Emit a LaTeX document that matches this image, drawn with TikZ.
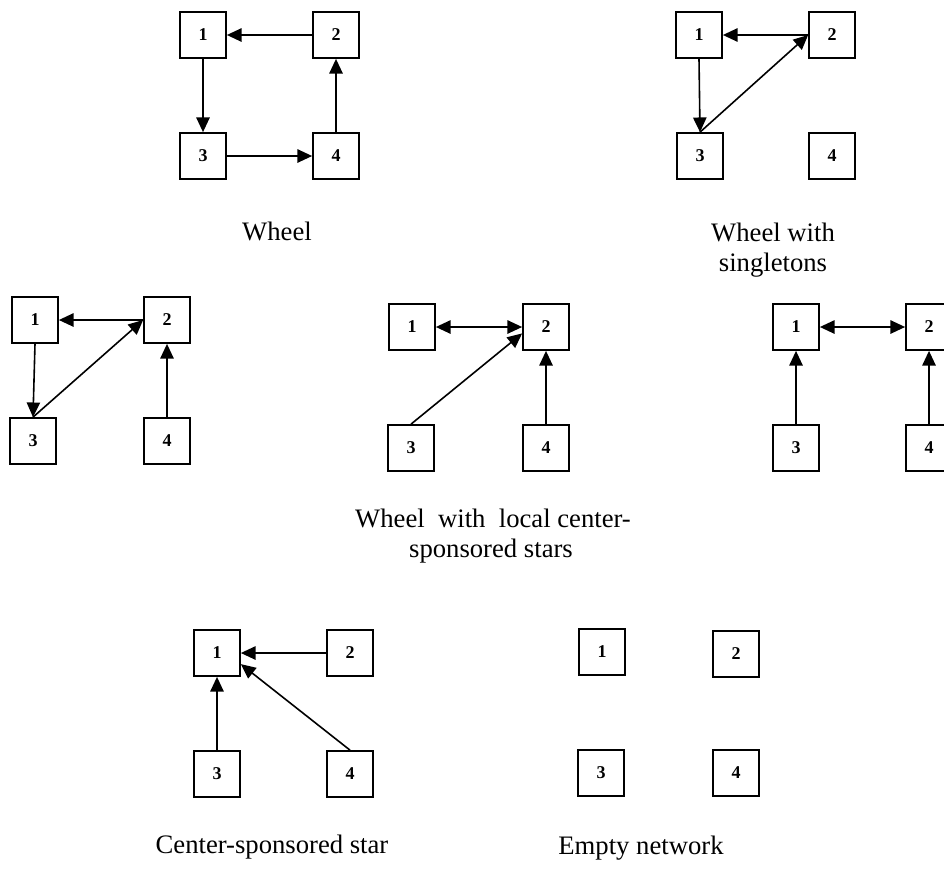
\documentclass[tikz,border=0pt]{standalone}
\usepackage{fontspec}
\setmainfont{Liberation Serif}
\usetikzlibrary{arrows.meta}
\begin{document}
\begin{tikzpicture}[x=0.75pt,y=-0.75pt,
  box/.style={draw, line width=1.3pt, minimum width=34.5pt, minimum height=34.5pt, inner sep=0pt, font=\fontsize{13.5}{15}\selectfont\bfseries},
  arr/.style={line width=1.2pt, -{Triangle[length=11pt,width=10pt]}},
  darr/.style={line width=1.2pt, {Triangle[length=11pt,width=10pt]}-{Triangle[length=11pt,width=10pt]}},
  lbl/.style={font=\fontsize{20}{22.5}\selectfont, inner sep=0pt, anchor=base}]
\useasboundingbox (0,0) rectangle (944,879);
\clip (0,0) rectangle (944,879);

% Graph 1: Wheel
\node[box] (a1) at (203,35) {1};
\node[box] (a2) at (336,35) {2};
\node[box] (a3) at (203,156) {3};
\node[box] (a4) at (336,156) {4};
\draw[arr] (a2.west) -- (a1.east);
\draw[arr] (a1.south) -- (a3.north);
\draw[arr] (a3.east) -- (a4.west);
\draw[arr] (a4.north) -- (a2.south);
\node[lbl] (la) at (277,240) {Wheel};

% Graph 2: Wheel with singletons
\node[box] (b1) at (699,35) {1};
\node[box] (b2) at (832,35) {2};
\node[box] (b3) at (700,156) {3};
\node[box] (b4) at (832,156) {4};
\draw[arr] (b2.west) -- (b1.east);
\draw[arr] (b1.south) -- (b3.north);
\draw[arr] (b3.north) -- (b2.west);
\node[lbl] (lb1) at (773,241) {Wheel with};
\node[lbl] (lb2) at (773,271) {singletons};

% Graph 3: left middle
\node[box] (c1) at (35,320) {1};
\node[box] (c2) at (167,320) {2};
\node[box] (c3) at (33,441) {3};
\node[box] (c4) at (167,441) {4};
\draw[arr] (c2.west) -- (c1.east);
\draw[arr] (c1.south) -- (c3.north);
\draw[arr] (c3.north) -- (c2.west);
\draw[arr] (c4.north) -- (c2.south);

% Graph 4: middle
\node[box] (d1) at (412,327) {1};
\node[box] (d2) at (546,327) {2};
\node[box] (d3) at (411,448) {3};
\node[box] (d4) at (546,448) {4};
\draw[darr] (d1.east) -- (d2.west);
\draw[arr] (d3.north) -- (d2.195);
\draw[arr] (d4.north) -- (d2.south);

% Graph 5: right middle
\node[box] (e1) at (796,327) {1};
\node[box] (e2) at (929,327) {2};
\node[box] (e3) at (796,448) {3};
\node[box] (e4) at (929,448) {4};
\draw[darr] (e1.east) -- (e2.west);
\draw[arr] (e3.north) -- (e1.south);
\draw[arr] (e4.north) -- (e2.south);

\node[lbl] (ld1) at (493,527) {Wheel\ \ with\ \ local center-};
\node[lbl] (ld2) at (491,557) {sponsored stars};

% Graph 6: Center-sponsored star
\node[box] (f1) at (217,653) {1};
\node[box] (f2) at (350,653) {2};
\node[box] (f3) at (217,774) {3};
\node[box] (f4) at (350,774) {4};
\draw[arr] (f2.west) -- (f1.east);
\draw[arr] (f3.north) -- (f1.south);
\draw[arr] (f4.north) -- (f1.-25);
\node[lbl] (lf) at (272,853) {Center-sponsored star};

% Graph 7: Empty network
\node[box] (g1) at (602,652) {1};
\node[box] (g2) at (736,654) {2};
\node[box] (g3) at (601,773) {3};
\node[box] (g4) at (736,773) {4};
\node[lbl] (lg) at (641,854) {Empty network};
\end{tikzpicture}
\end{document}
